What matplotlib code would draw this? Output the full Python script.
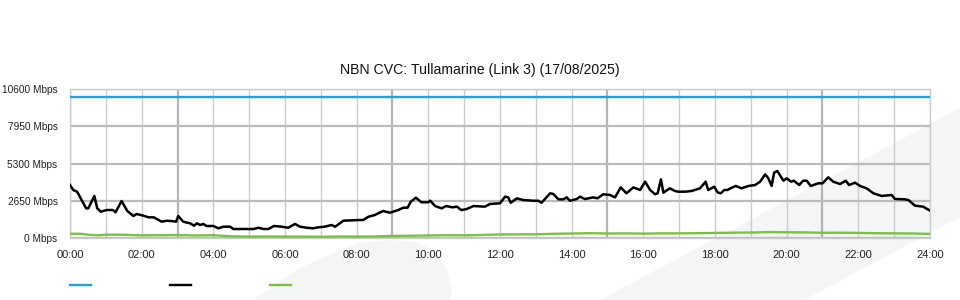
import matplotlib
matplotlib.use("Agg")
import matplotlib.pyplot as plt
from matplotlib.patches import Polygon
from matplotlib.lines import Line2D

plt.rcParams["font.family"] = ["Liberation Sans", "DejaVu Sans"]

title = "NBN CVC: Tullamarine (Link 3) (17/08/2025)"
y_ticks = [0, 2650, 5300, 7950, 10600]
y_labels = [f"{v} Mbps" for v in y_ticks]
x_ticks = list(range(0, 25, 2))
x_labels = [f"{h:02d}:00" for h in x_ticks]

# capacity (blue)
cap_t = [0, 24]
cap_v = [10000, 10000]

# used bandwidth (black), hours / Mbps
black_t = [0.00, 0.09, 0.20, 0.45, 0.51, 0.68, 0.76, 0.86, 1.02, 1.20, 1.27, 1.44, 1.60, 1.77, 1.86,
           2.05, 2.19, 2.34, 2.56, 2.70, 2.85, 2.96, 3.02, 3.16, 3.35, 3.46, 3.54, 3.63, 3.72, 3.81,
           4.00, 4.14, 4.28, 4.47, 4.56, 4.75, 5.12, 5.26, 5.40, 5.54, 5.69, 5.90, 6.09, 6.28, 6.42,
           6.60, 6.79, 6.93, 7.10, 7.30, 7.40, 7.63, 8.09, 8.18, 8.33, 8.51, 8.60, 8.74, 8.93, 9.16,
           9.30, 9.42, 9.51, 9.65, 9.81, 10.00, 10.05, 10.19, 10.37, 10.50, 10.67, 10.80, 10.88, 10.93,
           11.07, 11.26, 11.58, 11.72, 12.00, 12.14, 12.23, 12.30, 12.47, 12.65, 12.93, 13.07, 13.16,
           13.40, 13.49, 13.63, 13.77, 13.86, 13.95, 14.14, 14.23, 14.37, 14.60, 14.72, 14.88, 15.07,
           15.21, 15.37, 15.53, 15.72, 15.91, 16.05, 16.19, 16.33, 16.40, 16.49, 16.56, 16.74, 16.88,
           16.98, 17.17, 17.35, 17.58, 17.74, 17.81, 17.98, 18.07, 18.16, 18.26, 18.35, 18.43, 18.58,
           18.74, 18.93, 19.12, 19.26, 19.40, 19.49, 19.58, 19.65, 19.74, 19.91, 20.00, 20.12, 20.20,
           20.35, 20.46, 20.56, 20.67, 20.88, 21.00, 21.16, 21.30, 21.49, 21.65, 21.74, 21.91, 22.05,
           22.23, 22.42, 22.65, 22.93, 23.02, 23.30, 23.40, 23.58, 23.81, 24.00]
black_v = [3770, 3415, 3290, 2110, 2110, 2990, 2110, 1870, 1990, 1990, 1830, 2630, 1920, 1565, 1707,
           1590, 1470, 1470, 1160, 1230, 1200, 1160, 1565, 1160, 1045, 875, 1045, 925, 1000, 855,
           855, 690, 805, 805, 640, 640, 640, 730, 640, 640, 855, 805, 730, 1000, 805,
           730, 690, 760, 800, 925, 805, 1230, 1280, 1280, 1515, 1635, 1757, 1920, 1800, 1990,
           2155, 2155, 2580, 2870, 2540, 2540, 2655, 2275, 2110, 2275, 2180, 2230, 2060, 1990,
           2060, 2275, 2230, 2420, 2470, 2940, 2890, 2510, 2820, 2700, 2650, 2650, 2510,
           3180, 3130, 2750, 2750, 2890, 2650, 2770, 2940, 2770, 2890, 2820, 3110, 3060,
           2890, 3600, 3180, 3600, 3415, 4005, 3415, 3110, 3180, 4175, 3225, 3535, 3345,
           3295, 3295, 3345, 3535, 4005, 3415, 3650, 3250, 3180, 3415, 3415, 3535, 3700,
           3535, 3700, 3770, 4005, 4530, 4245, 3700, 4650, 4765, 4075, 4245, 4005, 4075,
           3770, 4075, 4075, 3700, 3890, 3890, 4315, 4005, 3840, 4075, 3770, 3935, 3700,
           3535, 3180, 2990, 3060, 2775, 2750, 2700, 2300, 2230, 1945]

# green series
green_t = [0, 0.3, 0.5, 0.8, 1, 1.5, 2, 2.5, 3, 3.5, 4, 4.5, 5, 5.5, 6, 6.5, 7, 7.5, 8, 8.5, 9, 9.5,
           10, 10.5, 11, 11.5, 12, 12.5, 13, 13.5, 14, 14.5, 15, 15.5, 16, 16.5, 17, 17.5, 18, 18.5,
           19, 19.5, 20, 20.5, 21, 21.5, 22, 22.5, 23, 23.5, 24]
green_v = [300, 300, 230, 200, 240, 230, 190, 200, 210, 180, 200, 120, 100, 110, 100, 100, 90, 110,
           100, 110, 150, 160, 180, 200, 190, 220, 250, 260, 260, 300, 320, 340, 320, 330, 310, 330,
           330, 340, 360, 380, 390, 420, 410, 400, 370, 380, 360, 340, 330, 320, 290]

W, H = 960, 300
fig = plt.figure(figsize=(9.6, 3.0), dpi=100)


def fpts(pts):
    return [(x / W, 1 - y / H) for x, y in pts]


# faint watermark shapes behind everything
bg = "#f4f5f7"
fig.patches.append(Polygon(fpts([(600, 300), (960, 108), (960, 217), (804, 300)]),
                           closed=True, transform=fig.transFigure, facecolor=bg, edgecolor="none", zorder=0))
fig.patches.append(Polygon(fpts([(253, 300), (300, 268), (357, 243), (390, 240), (417, 242), (435, 252),
                                 (447, 270), (452, 290), (450, 300)]),
                           closed=True, transform=fig.transFigure, facecolor=bg, edgecolor="none", zorder=0))

ax = fig.add_axes([70 / W, 62 / H, 860 / W, 149 / H])
ax.set_zorder(2)
ax.patch.set_alpha(0)

for h in range(25):
    if h % 6 == 3:
        ax.axvline(h, color="#b4b4b4", lw=1.6, zorder=1)
    else:
        ax.axvline(h, color="#cccccc", lw=1.0, zorder=1)
for v in y_ticks:
    ax.axhline(v, color="#bbbbbb", lw=1.6, zorder=1)

ax.plot(cap_t, cap_v, color="#1da1e0", lw=1.7, zorder=3)
ax.plot(green_t, green_v, color="#7ac143", lw=1.7, zorder=3)
ax.plot(black_t, black_v, color="#000000", lw=1.8, zorder=4)

ax.set_xlim(0, 24)
ax.set_ylim(0, 10600)
ax.set_xticks(x_ticks)
ax.set_xticklabels(x_labels, fontsize=8, color="#222222")
ax.set_yticks(y_ticks)
ax.set_yticklabels(y_labels, fontsize=7.3, color="#222222")
ax.tick_params(length=0)
ax.tick_params(axis="x", pad=9)
ax.tick_params(axis="y", pad=9)
for s in ax.spines.values():
    s.set_color("#cccccc")
    s.set_linewidth(1.0)

fig.text(480 / W, 1 - 70 / H, title, ha="center", va="center", fontsize=10.2, color="#111111")

# legend markers
for x0, c in [(70, "#1da1e0"), (170, "#000000"), (270, "#7ac143")]:
    fig.add_artist(Line2D([x0 / W, (x0 + 21) / W], [1 - 285 / H, 1 - 285 / H],
                          transform=fig.transFigure, color=c, lw=1.7, zorder=3))

fig.savefig("out.png", dpi=100)
